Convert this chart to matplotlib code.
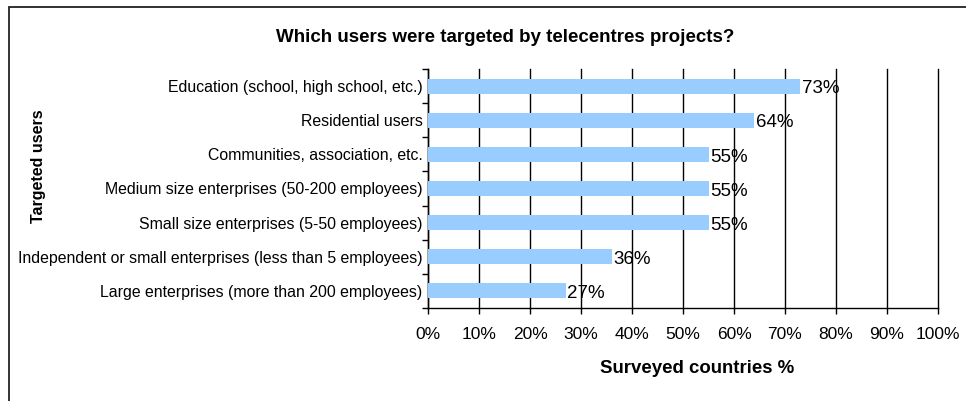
import matplotlib.pyplot as plt
from matplotlib.patches import Rectangle
from matplotlib.ticker import FixedLocator, PercentFormatter

plt.rcParams['font.family'] = ['Liberation Sans', 'DejaVu Sans']

# target groups, top to bottom
categorias = [
    "Education (school, high school, etc.)",
    "Residential users",
    "Communities, association, etc.",
    "Medium size enterprises (50-200 employees)",
    "Small size enterprises (5-50 employees)",
    "Independent or small enterprises (less than 5 employees)",
    "Large enterprises (more than 200 employees)",
]
porcentajes = [73, 64, 55, 55, 55, 36, 27]
ticks_x = [0, 10, 20, 30, 40, 50, 60, 70, 80, 90, 100]

fig = plt.figure(figsize=(9.66, 4.01), dpi=100)
ax = fig.add_axes([428 / 966, 1 - 308 / 401, 510 / 966, 239 / 401])

pos = list(range(len(categorias)))
ax.barh(pos, porcentajes, height=0.44, color="#99CCFF", zorder=3)

for p, v in zip(pos, porcentajes):
    ax.text(v + 0.3, p + 0.08, "%d%%" % v, va="center", ha="left",
            fontsize=13.5, zorder=4)

ax.set_xlim(0, 100)
ax.set_ylim(len(categorias) - 0.5, -0.5)
ax.set_xticks(ticks_x)
ax.xaxis.set_major_formatter(PercentFormatter(decimals=0))
ax.tick_params(axis="x", labelsize=12.5, length=4, width=1, pad=10)

ax.set_yticks(pos)
ax.set_yticklabels(categorias, fontsize=11.4)
ax.yaxis.set_minor_locator(FixedLocator([p - 0.5 for p in pos] + [len(pos) - 0.5]))
ax.tick_params(axis="y", which="major", length=0, pad=4)
ax.tick_params(axis="y", which="minor", length=4, width=1)

ax.grid(axis="x", color="black", linewidth=1, zorder=0)
ax.set_axisbelow(True)
for linea in ax.get_xgridlines():
    linea.set_clip_on(False)
ax.spines["top"].set_visible(False)
ax.spines["right"].set_visible(False)
ax.spines["left"].set_linewidth(1)
ax.spines["bottom"].set_linewidth(1)

ax.set_xlabel("Surveyed countries %", fontsize=13.4, fontweight="bold")
ax.xaxis.set_label_coords(0.527, -0.216)
fig.text(39 / 966, 1 - 166 / 401, "Targeted users", rotation=90, fontsize=11.5,
         fontweight="bold", ha="center", va="center")
fig.text(505 / 966, 1 - 37 / 401, "Which users were targeted by telecentres projects?",
         fontsize=13.5, fontweight="bold", ha="center", va="center")

# chart frame
fig.patches.append(Rectangle((9 / 966, -0.1), 1.2, 1.1 - 7 / 401, transform=fig.transFigure,
                             fill=False, edgecolor="#222222", linewidth=1.3))

fig.savefig("out.png", dpi=100)
